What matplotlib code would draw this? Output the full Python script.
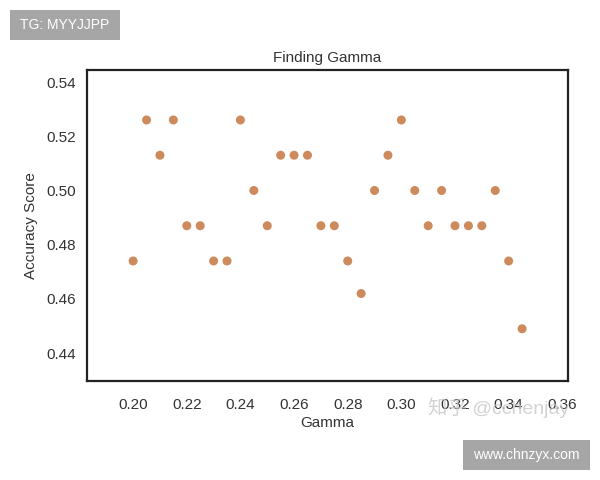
import matplotlib
matplotlib.use("Agg")
from matplotlib import pyplot as plt
from matplotlib.patches import Rectangle

# gamma values tried and resulting accuracy
gammas = [0.200, 0.205, 0.210, 0.215, 0.220, 0.225, 0.230, 0.235, 0.240, 0.245,
          0.250, 0.255, 0.260, 0.265, 0.270, 0.275, 0.280, 0.285, 0.290, 0.295,
          0.300, 0.305, 0.310, 0.315, 0.320, 0.325, 0.330, 0.335, 0.340, 0.345]
scores = [0.474, 0.526, 0.513, 0.526, 0.487, 0.487, 0.474, 0.474, 0.526, 0.500,
          0.487, 0.513, 0.513, 0.513, 0.487, 0.487, 0.474, 0.462, 0.500, 0.513,
          0.526, 0.500, 0.487, 0.500, 0.487, 0.487, 0.487, 0.500, 0.474, 0.449]
xticks = [0.20, 0.22, 0.24, 0.26, 0.28, 0.30, 0.32, 0.34, 0.36]
yticks = [0.44, 0.46, 0.48, 0.50, 0.52, 0.54]

plt.rcParams['font.family'] = ['Liberation Sans', 'Noto Sans CJK SC', 'DejaVu Sans']

fig = plt.figure(figsize=(6, 4.8), dpi=100)
ax = fig.add_axes([0.145, 0.206, 0.802, 0.648])
ax.scatter(gammas, scores, s=42, c='#cd8a5c', edgecolors='none')

ax.set_xlim(0.1828, 0.3622)
ax.set_ylim(0.4297, 0.5444)
ax.set_xticks(xticks)
ax.set_xticklabels(["%.2f" % t for t in xticks])
ax.set_yticks(yticks)
ax.set_yticklabels(["%.2f" % t for t in yticks])
ax.tick_params(length=0, labelsize=11, colors='#333333')
ax.tick_params(axis='x', pad=12)
ax.tick_params(axis='y', pad=8)
for sp in ax.spines.values():
    sp.set_linewidth(1.6)
    sp.set_color('#222222')

ax.set_title("Finding Gamma", fontsize=11, color='#333333', pad=6)
ax.set_xlabel("Gamma", fontsize=11, color='#333333', labelpad=3)
ax.set_ylabel("Accuracy Score", fontsize=11, color='#333333', labelpad=6)

# watermarks
fig.text(0.713, 0.15, "知乎 @cchenjay", fontsize=14, color='#c8c8c8', alpha=0.8, va='center')
fig.patches.append(Rectangle((10 / 600, 1 - 40 / 480), 110 / 600, 30 / 480,
                             transform=fig.transFigure, fc='#a6a6a6', ec='none'))
fig.text(65 / 600, 1 - 25 / 480, "TG: MYYJJPP", fontsize=10, color='white',
         ha='center', va='center')
fig.patches.append(Rectangle((463 / 600, 1 - 470 / 480), 127 / 600, 30 / 480,
                             transform=fig.transFigure, fc='#a6a6a6', ec='none'))
fig.text(526.5 / 600, 1 - 455 / 480, "www.chnzyx.com", fontsize=10, color='white',
         ha='center', va='center')

fig.savefig("out.png", dpi=100)
